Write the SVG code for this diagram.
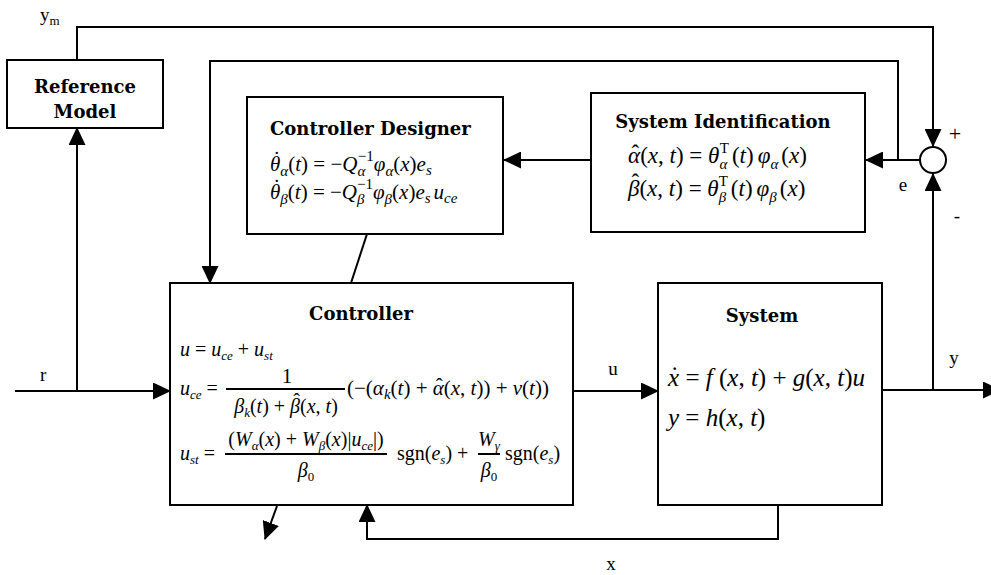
<svg xmlns="http://www.w3.org/2000/svg" width="991" height="575" viewBox="0 0 991 575" font-size="20">
<defs>
<style>
.box{fill:#fff;stroke:#000;stroke-width:2}
.wire{fill:none;stroke:#000;stroke-width:2}
.arr{marker-end:url(#ah)}
.title{font-family:"DejaVu Serif",serif;font-weight:bold;font-size:18px;fill:#000}
.lbl{font-family:"Liberation Serif","Times New Roman",serif;fill:#000}
.m{font-family:"Liberation Serif","Times New Roman",serif;font-style:italic;fill:#000}
.r{font-style:normal}
.s{font-size:13px}
.s2{font-size:15px}
</style>
<marker id="ah" markerUnits="userSpaceOnUse" markerWidth="18" markerHeight="17" refX="17" refY="8.5" orient="auto">
<path d="M0,0 L18,8.5 L0,17 z" fill="#000"/>
</marker>
</defs>
<rect width="991" height="575" fill="#fff"/>

<!-- signal wiring -->
<g id="connectors" class="wire">
<path class="arr" d="M77,60 V27 H933 V146"/>
<path class="arr" d="M920,160 H866"/>
<path class="arr" d="M898,160 V61 H210 V283"/>
<path class="arr" d="M591,160 H504"/>
<path d="M367,234 L351,283"/>
<path class="arr" d="M15,391 H170"/>
<path class="arr" d="M77,391 V128"/>
<path class="arr" d="M573,391 H658"/>
<path class="arr" d="M882,390 H1000"/>
<path class="arr" d="M933,390 V174"/>
<path class="arr" d="M778,505 V539 H367 V505"/>
<path class="arr" d="M277,506 L265,539"/>
</g>

<!-- signal labels -->
<g id="labels" font-size="19">
<text class="lbl" x="40" y="21">y<tspan font-size="13" dy="4">m</tspan></text>
<text class="lbl" x="40" y="381">r</text>
<text class="lbl" x="613" y="375" text-anchor="middle">u</text>
<text class="lbl" x="954" y="364" text-anchor="middle">y</text>
<text class="lbl" x="611" y="570" text-anchor="middle">x</text>
<text class="lbl" x="903" y="191" text-anchor="middle">e</text>
<text class="lbl" x="955" y="141" text-anchor="middle" font-size="22">+</text>
<text class="lbl" x="957" y="222" text-anchor="middle">-</text>
</g>

<g id="reference-model">
<rect class="box" x="7" y="60" width="156" height="68"/>
<text class="title" x="85" y="93" text-anchor="middle">Reference</text>
<text class="title" x="85" y="118" text-anchor="middle">Model</text>
</g>

<g id="controller-designer">
<rect class="box" x="247" y="97" width="256" height="137"/>
<text class="title" x="270" y="135">Controller Designer</text>
<text class="m" x="270" y="171" font-size="21">θ<tspan class="r" dx="-7.2" y="166">˙</tspan><tspan class="s2" dx="0.2" y="176">α</tspan><tspan class="r" y="171">(</tspan>t<tspan class="r">) = −</tspan>Q<tspan class="s2" y="176">α</tspan><tspan class="s2 r" dx="-7.5" y="161">−1</tspan><tspan y="171">φ</tspan><tspan class="s2" y="176">α</tspan><tspan class="r" y="171">(</tspan>x<tspan class="r">)</tspan>e<tspan class="s2" y="175">s</tspan></text>
<text class="m" x="270" y="199" font-size="21">θ<tspan class="r" dx="-7.2" y="194">˙</tspan><tspan class="s2" dx="0.2" y="204">β</tspan><tspan class="r" y="199">(</tspan>t<tspan class="r">) = −</tspan>Q<tspan class="s2" y="204">β</tspan><tspan class="s2 r" dx="-7.5" y="189">−1</tspan><tspan y="199">φ</tspan><tspan class="s2" y="204">β</tspan><tspan class="r" y="199">(</tspan>x<tspan class="r">)</tspan>e<tspan class="s2" y="203">s</tspan><tspan y="199" dx="3">u</tspan><tspan class="s2" y="203">ce</tspan></text>
</g>

<g id="system-identification">
<rect class="box" x="591" y="93" width="274" height="139"/>
<text class="title" x="723" y="128" text-anchor="middle">System Identification</text>
<text class="m" x="628" y="163" font-size="23">α<tspan class="r" dx="-8.6" y="161">ˆ</tspan><tspan class="r" dx="1" y="163">(</tspan>x<tspan class="r">, </tspan>t<tspan class="r">) = </tspan>θ<tspan class="s2" y="169">α</tspan><tspan class="s2 r" dx="-7.5" y="153">T</tspan><tspan class="r" dx="3" y="163">(</tspan>t<tspan class="r">)</tspan><tspan dx="4">φ</tspan><tspan class="s2" y="169">α</tspan><tspan class="r" dx="3" y="163">(</tspan>x<tspan class="r">)</tspan></text>
<text class="m" x="628" y="196" font-size="23">β<tspan class="r" dx="-7.9" y="190">ˆ</tspan><tspan class="r" dx="0.2" y="196">(</tspan>x<tspan class="r">, </tspan>t<tspan class="r">) = </tspan>θ<tspan class="s2" y="202">β</tspan><tspan class="s2 r" dx="-7.5" y="186">T</tspan><tspan class="r" dx="3" y="196">(</tspan>t<tspan class="r">)</tspan><tspan dx="4">φ</tspan><tspan class="s2" y="202">β</tspan><tspan class="r" dx="3" y="196">(</tspan>x<tspan class="r">)</tspan></text>
</g>

<g id="summing-junction">
<circle class="box" cx="933" cy="160" r="13"/>
</g>

<g id="controller">
<rect class="box" x="170" y="283" width="403" height="222"/>
<text class="title" x="361" y="320" text-anchor="middle">Controller</text>
<text class="m" x="180" y="356">u<tspan class="r"> = </tspan>u<tspan class="s" y="360">ce</tspan><tspan class="r" y="356"> + </tspan>u<tspan class="s" y="360">st</tspan></text>
<text class="m" x="180" y="395">u<tspan class="s" y="399">ce</tspan><tspan class="r" y="395"> =</tspan></text>
<line class="wire" x1="226" y1="389" x2="345" y2="389"/>
<text class="lbl" x="287" y="383" text-anchor="middle" font-size="21">1</text>
<text class="m" x="286" y="413" text-anchor="middle">β<tspan class="s" dy="4">k</tspan><tspan class="r" dy="-4">(</tspan>t<tspan class="r">) + </tspan>β<tspan class="r" dx="-6.9" dy="-5">ˆ</tspan><tspan class="r" dx="0.2" dy="5">(</tspan>x<tspan class="r">, </tspan>t<tspan class="r">)</tspan></text>
<text class="m" x="347" y="395" font-size="21"><tspan class="r">(−(</tspan>α<tspan class="s2" y="399">k</tspan><tspan class="r" y="395">(</tspan>t<tspan class="r">) + </tspan>α<tspan class="r" dx="-7.9" y="393">ˆ</tspan><tspan class="r" dx="0.9" y="395">(</tspan>x<tspan class="r">, </tspan>t<tspan class="r">)) + </tspan>ν<tspan class="r">(</tspan>t<tspan class="r">))</tspan></text>
<text class="m" x="180" y="460">u<tspan class="s" y="464">st</tspan><tspan class="r" y="460"> =</tspan></text>
<line class="wire" x1="225" y1="454" x2="387" y2="454"/>
<text class="m" x="306" y="446" text-anchor="middle"><tspan class="r">(</tspan>W<tspan class="s" dy="4">α</tspan><tspan class="r" dy="-4">(</tspan>x<tspan class="r">) + </tspan>W<tspan class="s" dy="4">β</tspan><tspan class="r" dy="-4">(</tspan>x<tspan class="r">)|</tspan>u<tspan class="s" dy="4">ce</tspan><tspan class="r" dy="-4">|)</tspan></text>
<text class="m" x="306" y="477" text-anchor="middle">β<tspan class="s r" dy="4">0</tspan></text>
<text class="lbl" x="397" y="460">sgn(<tspan class="m">e</tspan><tspan class="m s" dy="4">s</tspan><tspan dy="-4">) +</tspan></text>
<line class="wire" x1="478" y1="454" x2="500" y2="454"/>
<text class="m" x="489" y="446" text-anchor="middle">W<tspan class="s" dy="4">γ</tspan></text>
<text class="m" x="489" y="477" text-anchor="middle">β<tspan class="s r" dy="4">0</tspan></text>
<text class="lbl" x="505" y="460">sgn(<tspan class="m">e</tspan><tspan class="m s" dy="4">s</tspan><tspan dy="-4">)</tspan></text>
</g>

<g id="system">
<rect class="box" x="658" y="283" width="224" height="222"/>
<text class="title" x="762" y="322" text-anchor="middle">System</text>
<text class="m" x="668" y="386" font-size="25">x<tspan class="r" dx="-8.6" y="384">˙</tspan><tspan class="r" dx="0.3" y="386"> = </tspan>f<tspan class="r"> (</tspan>x<tspan class="r">, </tspan>t<tspan class="r">) + </tspan>g<tspan class="r">(</tspan>x<tspan class="r">, </tspan>t<tspan class="r">)</tspan>u</text>
<text class="m" x="668" y="426" font-size="25">y<tspan class="r"> = </tspan>h<tspan class="r">(</tspan>x<tspan class="r">, </tspan>t<tspan class="r">)</tspan></text>
</g>
</svg>
